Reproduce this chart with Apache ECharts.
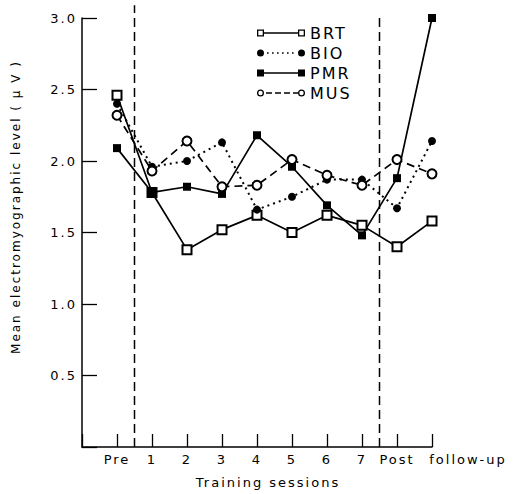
<!DOCTYPE html>
<html>
<head>
<meta charset="utf-8">
<title>Mean EMG level by training session</title>
<script src="https://cdn.jsdelivr.net/npm/echarts@6/dist/echarts.min.js"></script>
<style>
    html, body { margin: 0; padding: 0; background: #fff; }
    /* the original typeface is widely tracked */
    #main text { letter-spacing: 2px; }
</style>
</head>
<body>
<div id="main" style="width:517px;height:494px;"></div>
<script>
// x positions 0..9, one per session
var sessions = ['Pre', '1', '2', '3', '4', '5', '6', '7', 'Post', 'follow-up'];

var brt = [2.46, 1.78, 1.38, 1.52, 1.62, 1.50, 1.62, 1.55, 1.40, 1.58];
var bio = [2.40, 1.96, 2.00, 2.13, 1.66, 1.75, 1.87, 1.87, 1.67, 2.14];
var pmr = [2.09, 1.78, 1.82, 1.77, 2.18, 1.96, 1.69, 1.48, 1.88, 3.00];
var mus = [2.32, 1.93, 2.14, 1.82, 1.83, 2.01, 1.90, 1.83, 2.01, 1.91];

// dashed separators between baseline / training / follow-up phases
var phaseBreaks = [0.5, 7.5];
var breakTops = [3.09, 3.02];

var FONT = 'DejaVu Sans';

function toPoints(arr) {
    return arr.map(function (v, i) { return [i, v]; });
}

var chart = echarts.init(document.getElementById('main'), null, { renderer: 'svg' });

// legend icons: marker at both ends, line pattern in between (48 x 7)
var icons = {
    BRT: 'path://M0 0H7V7H0Z M1.3 1.3V5.7H5.7V1.3Z M7 2.8H41V4.2H7Z M41 0H48V7H41Z M42.3 1.3V5.7H46.7V1.3Z',
    BIO: 'path://M0 3.5A3.5 3.5 0 1 1 7 3.5A3.5 3.5 0 1 1 0 3.5Z M41 3.5A3.5 3.5 0 1 1 48 3.5A3.5 3.5 0 1 1 41 3.5Z' +
         ' M10 2.7h1.6v1.6h-1.6Z M15 2.7h1.6v1.6h-1.6Z M20 2.7h1.6v1.6h-1.6Z M25 2.7h1.6v1.6h-1.6Z M30 2.7h1.6v1.6h-1.6Z M35 2.7h1.6v1.6h-1.6Z',
    PMR: 'path://M0 0H7V7H0Z M7 2.8H41V4.2H7Z M41 0H48V7H41Z',
    MUS: 'path://M0 3.5A3.5 3.5 0 1 1 7 3.5A3.5 3.5 0 1 1 0 3.5Z M1.3 3.5A2.2 2.2 0 1 0 5.7 3.5A2.2 2.2 0 1 0 1.3 3.5Z' +
         ' M9 2.8H15V4.2H9Z M18 2.8H24V4.2H18Z M27 2.8H33V4.2H27Z M36 2.8H41V4.2H36Z' +
         ' M41 3.5A3.5 3.5 0 1 1 48 3.5A3.5 3.5 0 1 1 41 3.5Z M42.3 3.5A2.2 2.2 0 1 0 46.7 3.5A2.2 2.2 0 1 0 42.3 3.5Z'
};

var series = [
    {
        name: 'BRT', type: 'line', data: toPoints(brt),
        symbol: 'emptyRect', symbolSize: 9,
        lineStyle: { color: '#000', width: 1.7, type: 'solid' },
        itemStyle: { color: '#000', borderColor: '#000', borderWidth: 1.3 }
    },
    {
        name: 'BIO', type: 'line', data: toPoints(bio),
        symbol: 'circle', symbolSize: 8,
        lineStyle: { color: '#000', width: 2, type: [2, 4] },
        itemStyle: { color: '#000', borderWidth: 0 }
    },
    {
        name: 'PMR', type: 'line', data: toPoints(pmr),
        symbol: 'rect', symbolSize: 8,
        lineStyle: { color: '#000', width: 1.7, type: 'solid' },
        itemStyle: { color: '#000', borderWidth: 0 }
    },
    {
        name: 'MUS', type: 'line', data: toPoints(mus),
        symbol: 'emptyCircle', symbolSize: 9,
        lineStyle: { color: '#000', width: 1.7, type: [8, 5] },
        itemStyle: { color: '#000', borderColor: '#000', borderWidth: 1.3 }
    }
];

phaseBreaks.forEach(function (x, i) {
    series.push({
        name: 'break' + i, type: 'line',
        data: [[x, 0], [x, breakTops[i]]],
        symbol: 'none', clip: false, silent: true, z: 1,
        lineStyle: { color: '#000', width: 1.5, type: [9, 5] }
    });
});

var option = {
    animation: false,
    backgroundColor: '#fff',
    grid: { left: 82, right: 85, top: 18, bottom: 47, outerBoundsMode: 'none' },
    legend: {
        orient: 'vertical', left: 252, top: 20,
        itemWidth: 48, itemHeight: 7, itemGap: 4,
        selectedMode: false,
        itemStyle: { borderWidth: 0 },
        textStyle: { color: '#000', fontSize: 16, fontFamily: FONT, lineHeight: 16 },
        data: ['BRT', 'BIO', 'PMR', 'MUS'].map(function (n) {
            return { name: n, icon: icons[n] };
        })
    },
    xAxis: {
        type: 'value', min: -1, max: 9, interval: 1,
        name: 'Training sessions', nameLocation: 'middle', nameGap: 29,
        nameMoveOverlap: false,
        nameTextStyle: { color: '#000', fontSize: 13, fontFamily: FONT, padding: [0, 0, 0, 22] },
        axisLine: { onZero: false, lineStyle: { color: '#000', width: 1.5 } },
        axisTick: { inside: true, length: 13, lineStyle: { color: '#000', width: 1.3 } },
        splitLine: { show: false },
        axisLabel: {
            color: '#000', fontSize: 13, fontFamily: FONT, margin: 6,
            formatter: function (v) {
                var s = sessions[v];
                if (!s) return '';
                return s === 'follow-up' ? '{fu|' + s + '}' : s;
            },
            rich: {
                fu: { color: '#000', fontSize: 13, fontFamily: FONT, padding: [0, 0, 0, 72] }
            }
        }
    },
    yAxis: {
        type: 'value', min: 0, max: 3, interval: 0.5,
        name: 'Mean electromyographic level ( \u03bc V )', nameLocation: 'middle', nameGap: 60,
        nameMoveOverlap: false,
        nameTextStyle: { color: '#000', fontSize: 12, fontFamily: FONT, padding: [0, 0, 0, 51] },
        axisLine: { show: true, onZero: false, lineStyle: { color: '#000', width: 1.5 } },
        axisTick: { show: true, inside: true, length: 15, lineStyle: { color: '#000', width: 1.3 } },
        splitLine: { show: false },
        axisLabel: {
            color: '#000', fontSize: 13, fontFamily: FONT, margin: 5,
            formatter: function (v) { return v === 0 ? '' : v.toFixed(1); }
        }
    },
    series: series
};

chart.setOption(option);
</script>
</body>
</html>
